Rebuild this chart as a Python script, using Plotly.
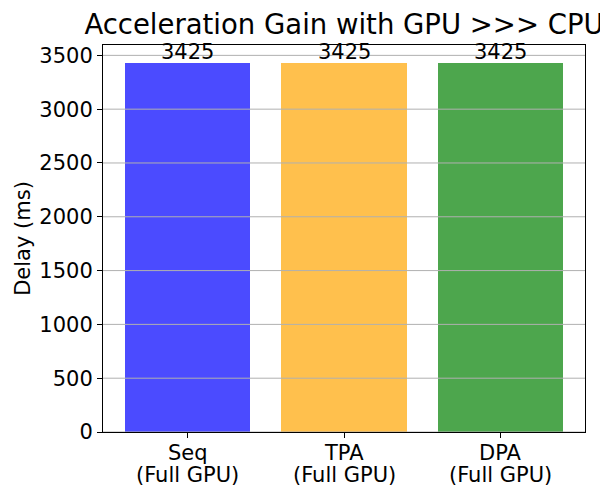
import plotly.graph_objects as go

names = ["Seq", "TPA", "DPA"]
subtitles = ["(Full GPU)", "(Full GPU)", "(Full GPU)"]
delays = [3425, 3425, 3425]
bar_colors = ["#4b4bff", "#ffc04d", "#4da64d"]
y_ticks = [0, 500, 1000, 1500, 2000, 2500, 3000, 3500]

positions = list(range(len(names)))
font = "DejaVu Sans"
fs = 21

fig = go.Figure()
fig.add_trace(go.Bar(
    x=positions, y=delays, width=0.8,
    marker=dict(color=bar_colors, line=dict(width=0)),
    showlegend=False, hoverinfo="x+y",
))

for t in y_ticks:
    fig.add_shape(type="line", xref="paper", x0=0, x1=1, yref="y", y0=t, y1=t,
                  line=dict(color="#b0b0b0", width=1), layer="above")

# value labels above bars
for p, v in zip(positions, delays):
    fig.add_annotation(x=p, y=v, xref="x", yref="y", text=str(v), showarrow=False,
                       xanchor="center", yanchor="bottom", yshift=-3,
                       font=dict(family=font, size=fs, color="black"))

# two-line category labels
for p, n, s in zip(positions, names, subtitles):
    fig.add_annotation(x=p, y=0, xref="x", yref="paper", text=n, showarrow=False,
                       xanchor="center", yanchor="top", yshift=-7,
                       font=dict(family=font, size=fs, color="black"))
    fig.add_annotation(x=p, y=0, xref="x", yref="paper", text=s, showarrow=False,
                       xanchor="center", yanchor="top", yshift=-29,
                       font=dict(family=font, size=fs, color="black"))

fig.update_layout(
    width=600, height=500,
    margin=dict(l=103, r=15, t=45, b=68, autoexpand=False),
    plot_bgcolor="white", paper_bgcolor="white",
    font=dict(family=font, size=fs, color="black"),
    title=dict(text="Acceleration Gain with GPU >>> CPU", font=dict(family=font, size=27.5, color="black"),
               x=0.5, xref="paper", xanchor="center", y=0.952, yref="container", yanchor="middle"),
    bargap=0,
)
fig.update_xaxes(
    range=[-0.54, 2.54], tickvals=positions, showticklabels=False, automargin=False,
    showline=True, linecolor="black", linewidth=1, mirror=True,
    ticks="outside", ticklen=5, tickcolor="black", showgrid=False, zeroline=False,
)
fig.update_yaxes(
    range=[0, max(delays) * 1.05], tickvals=y_ticks, automargin=False,
    showline=True, linecolor="black", linewidth=1, mirror=True,
    ticks="outside", ticklen=5, tickcolor="black", showgrid=False, zeroline=False,
    tickfont=dict(family=font, size=fs, color="black"),
    title=dict(text="Delay (ms)", font=dict(family=font, size=fs, color="black"), standoff=2),
)

fig.write_html("out.html")
